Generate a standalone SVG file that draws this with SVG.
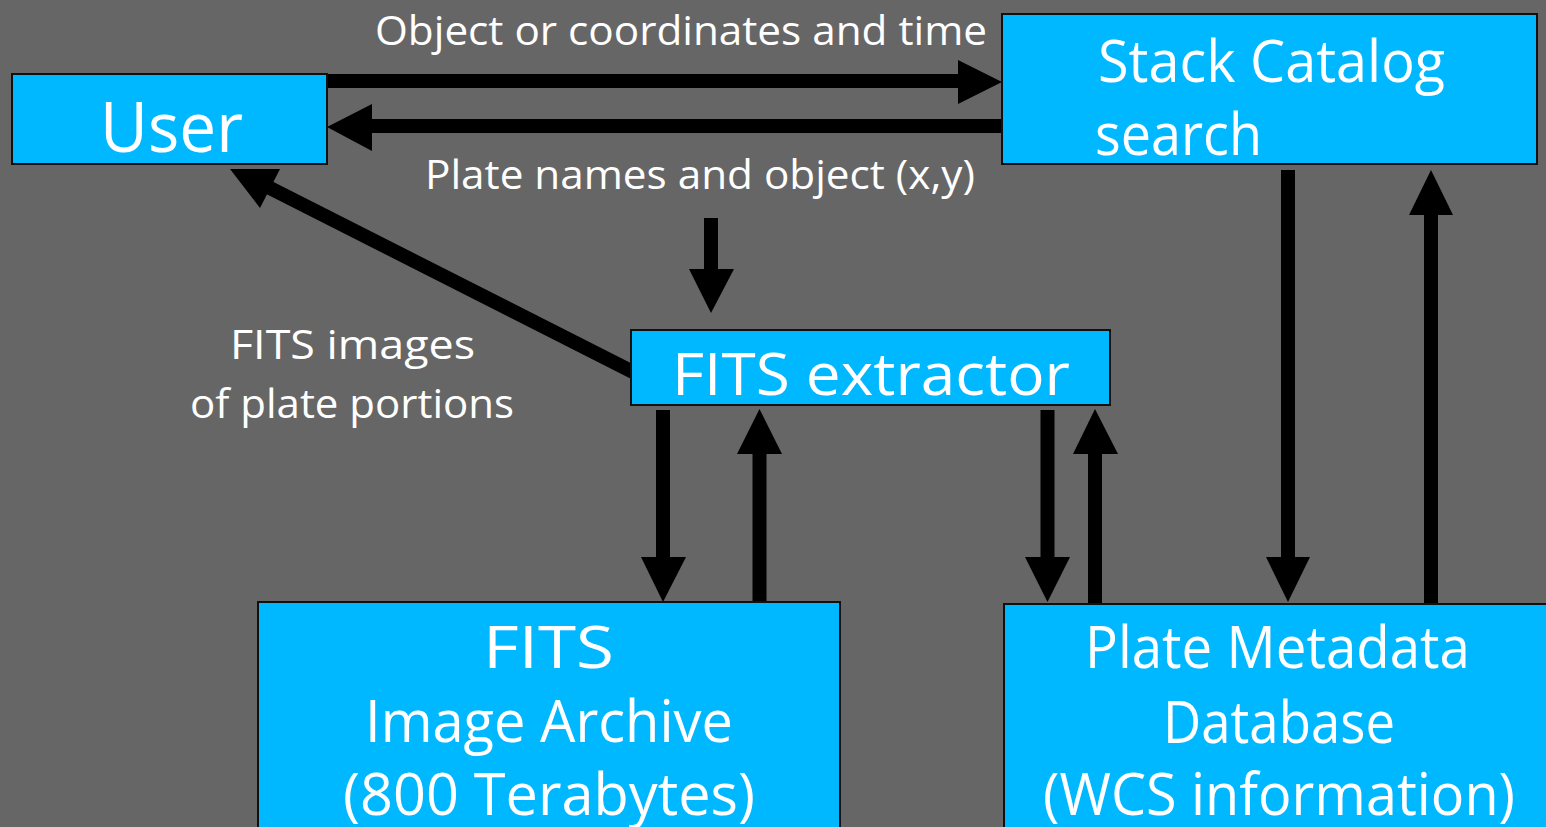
<svg xmlns="http://www.w3.org/2000/svg" width="1546" height="827" viewBox="0 0 1546 827">
<style>
.box{fill:#00B8FF;stroke:#111;stroke-width:2}
.t{font-family:"Open Sans","DejaVu Sans",sans-serif;fill:#fff}
.big{font-size:58px}
.lbl{font-size:40px}
.c{text-anchor:middle}
.sh{stroke:#000;stroke-width:14;fill:none}
.hd{fill:#000}
</style>
<rect width="1546" height="827" fill="#666666"/>
<g id="connectors">
  <!-- User -> Stack -->
  <line class="sh" x1="327" y1="81" x2="962" y2="81"/>
  <polygon class="hd" points="958,60 1002,82 958,104"/>
  <!-- Stack -> User -->
  <line class="sh" x1="1002" y1="126" x2="368" y2="126"/>
  <polygon class="hd" points="372,104 327,127 372,151"/>
  <!-- down into FITS extractor -->
  <line class="sh" x1="711" y1="218" x2="711" y2="273"/>
  <polygon class="hd" points="689,269 734,269 711,313"/>
  <!-- FITS extractor -> User diagonal -->
  <line class="sh" x1="633" y1="372" x2="266" y2="186"/>
  <polygon class="hd" points="230,169 280,169 260,208"/>
  <!-- extractor -> archive -->
  <line class="sh" x1="663" y1="410" x2="663" y2="561"/>
  <polygon class="hd" points="641,557 686,557 663,602"/>
  <!-- archive -> extractor -->
  <line class="sh" x1="759.5" y1="603" x2="759.5" y2="450"/>
  <polygon class="hd" points="737,454 782,454 759.5,409"/>
  <!-- extractor -> metadata -->
  <line class="sh" x1="1047.5" y1="410" x2="1047.5" y2="561"/>
  <polygon class="hd" points="1025,557 1070,557 1047.5,602"/>
  <!-- metadata -> extractor -->
  <line class="sh" x1="1095" y1="603" x2="1095" y2="450"/>
  <polygon class="hd" points="1073,454 1118,454 1095,409"/>
  <!-- stack -> metadata -->
  <line class="sh" x1="1288" y1="170" x2="1288" y2="561"/>
  <polygon class="hd" points="1266,557 1310,557 1288,602"/>
  <!-- metadata -> stack -->
  <line class="sh" x1="1431" y1="603" x2="1431" y2="211"/>
  <polygon class="hd" points="1409,215 1453,215 1431,170"/>
</g>
<g id="labels">
  <text class="t lbl" x="375" y="45" textLength="612" lengthAdjust="spacingAndGlyphs">Object or coordinates and time</text>
  <text class="t lbl" x="425" y="189" textLength="550" lengthAdjust="spacingAndGlyphs">Plate names and object (x,y)</text>
  <text class="t lbl" x="230" y="359" textLength="245" lengthAdjust="spacingAndGlyphs">FITS images</text>
  <text class="t lbl" x="190" y="418" textLength="324" lengthAdjust="spacingAndGlyphs">of plate portions</text>
</g>
<g id="user">
  <rect class="box" x="12" y="74" width="315" height="90"/>
  <text class="t" font-size="70" x="100" y="152" textLength="143" lengthAdjust="spacingAndGlyphs">User</text>
</g>
<g id="stack">
  <rect class="box" x="1002" y="14" width="535" height="150"/>
  <text class="t big" x="1098" y="82" textLength="347" lengthAdjust="spacingAndGlyphs">Stack Catalog</text>
  <text class="t big" x="1095" y="155" textLength="167" lengthAdjust="spacingAndGlyphs">search</text>
</g>
<g id="extractor">
  <rect class="box" x="631" y="330" width="479" height="75"/>
  <text class="t big" x="672" y="395" textLength="398" lengthAdjust="spacingAndGlyphs">FITS extractor</text>
</g>
<g id="archive">
  <rect class="box" x="258" y="602" width="582" height="240"/>
  <text class="t big" x="483" y="668" textLength="131" lengthAdjust="spacingAndGlyphs">FITS</text>
  <text class="t big" x="365" y="742" textLength="368" lengthAdjust="spacingAndGlyphs">Image Archive</text>
  <text class="t big" x="343" y="815" textLength="412" lengthAdjust="spacingAndGlyphs">(800 Terabytes)</text>
</g>
<g id="metadata">
  <rect class="box" x="1004" y="604" width="560" height="240"/>
  <text class="t big" x="1085" y="668" textLength="385" lengthAdjust="spacingAndGlyphs">Plate Metadata</text>
  <text class="t big" x="1163" y="743" textLength="232" lengthAdjust="spacingAndGlyphs">Database</text>
  <text class="t big" x="1043" y="815" textLength="472" lengthAdjust="spacingAndGlyphs">(WCS information)</text>
</g>
</svg>
